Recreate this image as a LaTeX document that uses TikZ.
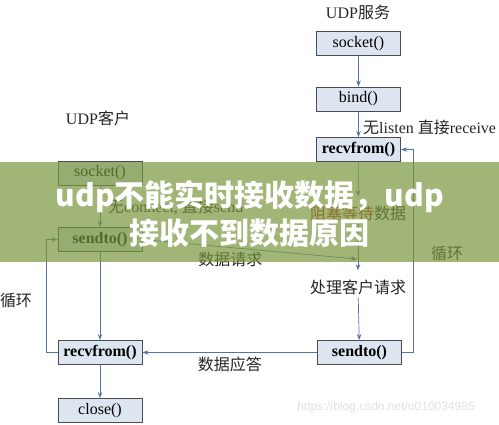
\documentclass[tikz,border=0pt]{standalone}
\usepackage{fontspec}
\setmainfont{Liberation Serif}
\setsansfont{Liberation Sans}
\newfontfamily\cjk{Noto Sans CJK SC}
\usetikzlibrary{arrows.meta}
\definecolor{boxfill}{RGB}{221,229,241}
\definecolor{boxline}{RGB}{75,75,85}
\definecolor{flowline}{RGB}{85,115,165}
\definecolor{bandgreen}{RGB}{120,150,60}
\definecolor{waitred}{RGB}{190,20,10}
\tikzset{
  callbox/.style={draw=boxline, fill=boxfill, line width=0.9pt, minimum width=84pt, minimum height=24pt, inner sep=0pt, font=\fontsize{16}{18}\selectfont},
  callboxb/.style={callbox, font=\fontsize{16}{18}\selectfont\bfseries},
  plain/.style={inner sep=3pt, text=black!85, font=\fontsize{16}{18}\selectfont},
  flow/.style={flowline, line width=0.7pt, -{Stealth[length=6pt,width=4.5pt]}},
  banner/.style={text=white, align=center, font=\cjk\bfseries\fontsize{30}{38}\selectfont}
}

\begin{document}
\begin{tikzpicture}[x=1pt, y=-1pt]
  \useasboundingbox (0,0) rectangle (499,424);
  \node[plain] (srvtitle) at (358,12) {UDP{\cjk 服务}};
  \node[callbox] (srvsock) at (358.5,43.5) {socket()};
  \node[callbox] (srvbind) at (358.5,99) {bind()};
  \node[plain, anchor=west] (srvnote) at (360,127) {{\cjk 无}listen {\cjk 直接}receive};
  \node[callboxb] (srvrecv) at (358.5,149.5) {recvfrom()};
  \node[plain] (srvwait) at (358,213) {{\cjk\color{waitred}阻塞等待}{\cjk 数据}};
  \node[plain] (srvproc) at (358,287) {\cjk 处理客户请求};
  \node[callboxb] (srvsend) at (359.5,352.5) {sendto()};
  \node[plain] (srvloop) at (447,253) {\cjk 循环};
  \draw[flow] (srvsock) -- (srvbind);
  \draw[flow] (srvbind) -- (srvrecv);
  \draw[flow, shorten >=6pt] (srvrecv) -- (srvwait);
  \draw[flow, shorten >=6pt] (srvwait) -- (srvproc);
  \draw[flow] (srvproc) -- (srvsend);
  \draw[flow] (srvsend.east) -- ++(11,0) |- (srvrecv.east);

  \node[plain] (clttitle) at (98,118) {UDP{\cjk 客户}};
  \node[callbox] (cltsock) at (100,173) {socket()};
  \node[plain, anchor=west] (cltnote) at (105,207) {{\cjk 无}connect, {\cjk 直接}send};
  \node[callboxb] (cltsend) at (100,239.5) {sendto()};
  \node[callboxb] (cltrecv) at (100,352.5) {recvfrom()};
  \node[callbox] (cltclose) at (100,410.5) {close()};
  \node[plain] (cltloop) at (16,300) {\cjk 循环};
  \draw[flow] (cltsock) -- (cltsend);
  \draw[flow] (cltsend) -- (cltrecv);
  \draw[flow] (cltrecv) -- (cltclose);
  \draw[flow] (cltrecv.west) -- ++(-11,0) |- (cltsend.west);

  \coordinate (reqin) at (357,259);
  \draw[flow] (cltsend.east) -- (reqin) node[plain, pos=0.41, below=1pt] {\cjk 数据请求};
  \draw[flow] (srvsend) -- (cltrecv) node[plain, midway, below=1pt] {\cjk 数据应答};

  \node[font=\sffamily\fontsize{12}{14}\selectfont, text=black!12] (mark) at (386,407) {https://blog.csdn.net/u010034985};

  \fill[bandgreen, opacity=0.7] (0,162) rectangle (499,262);
  \node[banner] (title) at (250,214) {udp不能实时接收数据，udp\\接收不到数据原因};
\end{tikzpicture}
\end{document}
